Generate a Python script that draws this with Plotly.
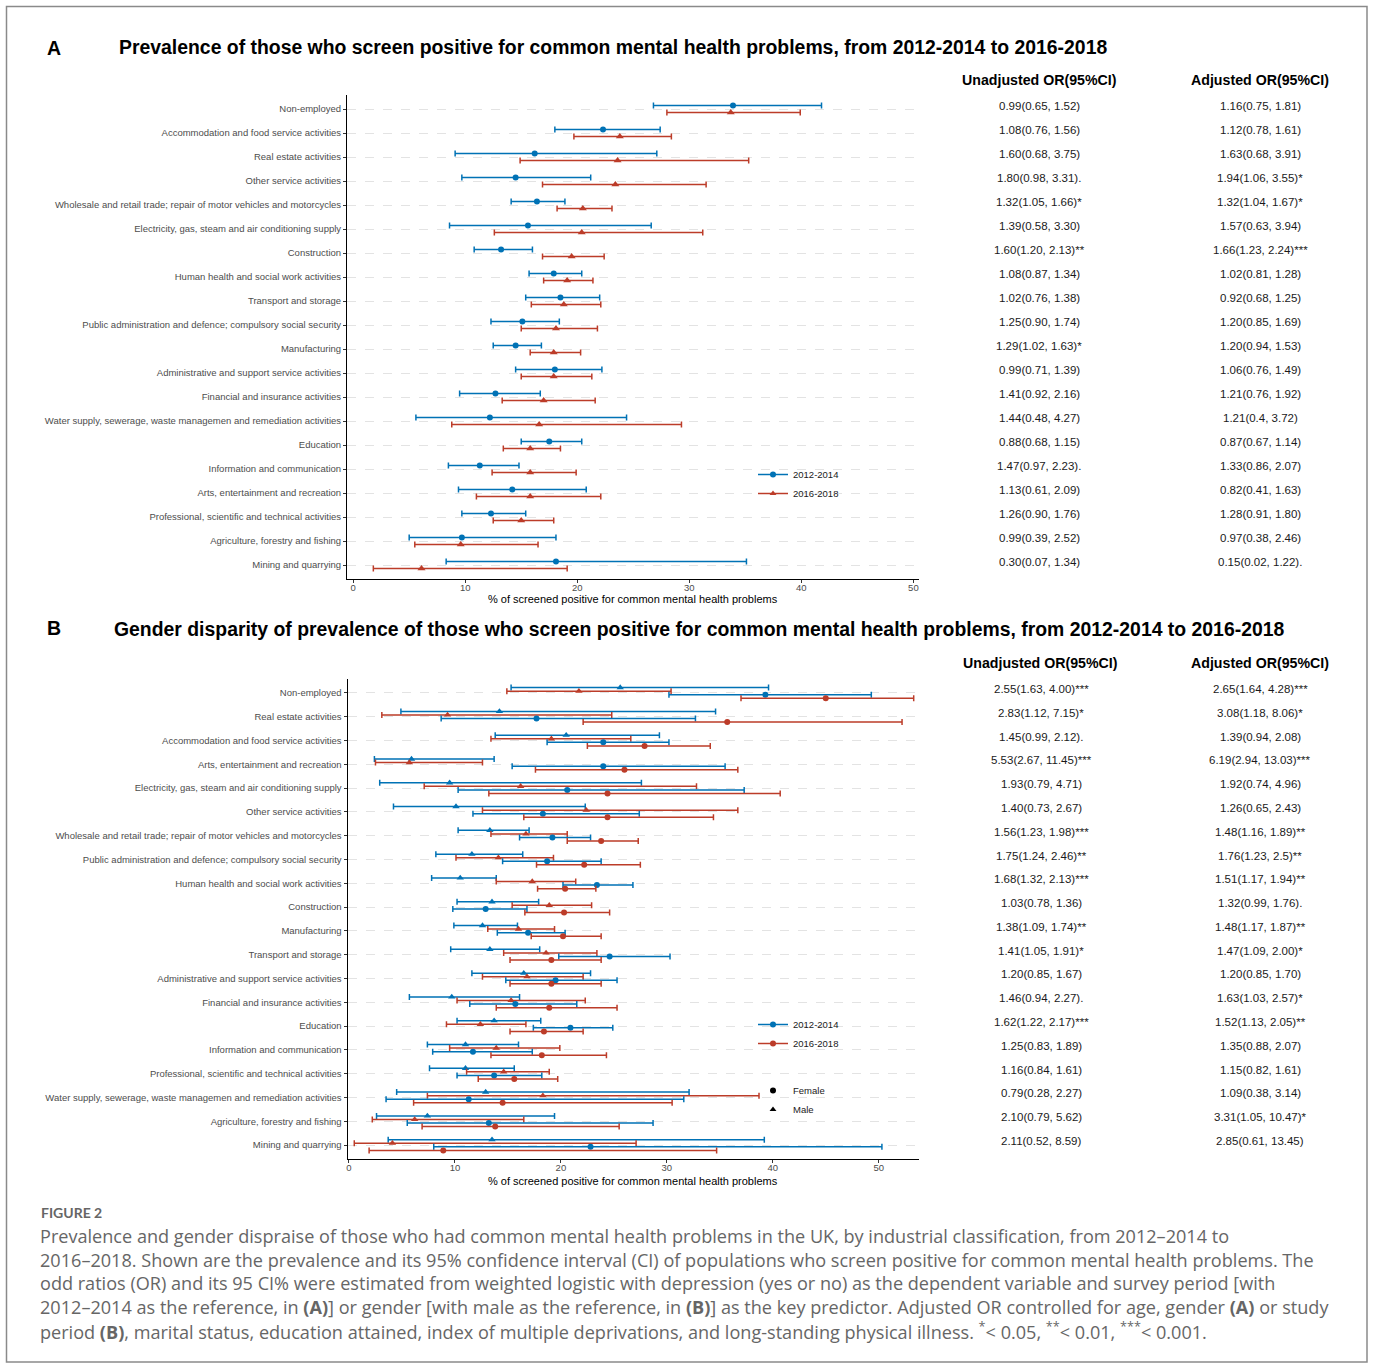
import numpy as np
import plotly.graph_objects as go

W, H = 1373, 1363

# ---------------- Panel A data ----------------
industries_a = [
    "Non-employed",
    "Accommodation and food service activities",
    "Real estate activities",
    "Other service activities",
    "Wholesale and retail trade; repair of motor vehicles and motorcycles",
    "Electricity, gas, steam and air conditioning supply",
    "Construction",
    "Human health and social work activities",
    "Transport and storage",
    "Public administration and defence; compulsory social security",
    "Manufacturing",
    "Administrative and support service activities",
    "Financial and insurance activities",
    "Water supply, sewerage, waste managemen and remediation activities",
    "Education",
    "Information and communication",
    "Arts, entertainment and recreation",
    "Professional, scientific and technical activities",
    "Agriculture, forestry and fishing",
    "Mining and quarrying",
]
a_2012_est = [33.9, 22.3, 16.2, 14.5, 16.4, 15.6, 13.2, 17.9, 18.5, 15.1, 14.5, 18.0, 12.7, 12.2, 17.5, 11.3, 14.2, 12.3, 9.7, 18.1]
a_2012_lo = [26.8, 18.0, 9.1, 9.7, 14.1, 8.6, 10.8, 15.7, 15.4, 12.3, 12.5, 14.5, 9.5, 5.6, 15.0, 8.5, 9.4, 9.7, 5.0, 8.3]
a_2012_hi = [41.8, 27.4, 27.1, 21.2, 18.9, 26.6, 16.0, 20.4, 22.0, 18.4, 16.8, 22.2, 16.7, 24.4, 20.4, 14.8, 20.8, 15.4, 18.1, 35.1]
a_2016_est = [33.7, 23.8, 23.6, 23.4, 20.5, 20.4, 19.5, 19.1, 18.8, 18.1, 17.9, 17.9, 17.0, 16.6, 15.8, 15.8, 15.8, 15.0, 9.6, 6.1]
a_2016_lo = [28.0, 19.7, 14.9, 16.9, 18.2, 12.6, 16.9, 17.0, 15.9, 15.0, 15.8, 15.0, 13.3, 8.8, 13.4, 12.4, 11.0, 12.5, 5.5, 1.8]
a_2016_hi = [39.9, 28.4, 35.3, 31.5, 23.1, 31.2, 22.4, 21.4, 22.1, 21.8, 20.3, 21.3, 21.6, 29.3, 18.5, 19.9, 22.1, 17.9, 16.5, 19.1]

a_unadjusted = [
    "0.99(0.65, 1.52)", "1.08(0.76, 1.56)", "1.60(0.68, 3.75)", "1.80(0.98, 3.31).",
    "1.32(1.05, 1.66)*", "1.39(0.58, 3.30)", "1.60(1.20, 2.13)**", "1.08(0.87, 1.34)",
    "1.02(0.76, 1.38)", "1.25(0.90, 1.74)", "1.29(1.02, 1.63)*", "0.99(0.71, 1.39)",
    "1.41(0.92, 2.16)", "1.44(0.48, 4.27)", "0.88(0.68, 1.15)", "1.47(0.97, 2.23).",
    "1.13(0.61, 2.09)", "1.26(0.90, 1.76)", "0.99(0.39, 2.52)", "0.30(0.07, 1.34)",
]
a_adjusted = [
    "1.16(0.75, 1.81)", "1.12(0.78, 1.61)", "1.63(0.68, 3.91)", "1.94(1.06, 3.55)*",
    "1.32(1.04, 1.67)*", "1.57(0.63, 3.94)", "1.66(1.23, 2.24)***", "1.02(0.81, 1.28)",
    "0.92(0.68, 1.25)", "1.20(0.85, 1.69)", "1.20(0.94, 1.53)", "1.06(0.76, 1.49)",
    "1.21(0.76, 1.92)", "1.21(0.4, 3.72)", "0.87(0.67, 1.14)", "1.33(0.86, 2.07)",
    "0.82(0.41, 1.63)", "1.28(0.91, 1.80)", "0.97(0.38, 2.46)", "0.15(0.02, 1.22).",
]

# ---------------- Panel B data ----------------
industries_b = [
    "Non-employed",
    "Real estate activities",
    "Accommodation and food service activities",
    "Arts, entertainment and recreation",
    "Electricity, gas, steam and air conditioning supply",
    "Other service activities",
    "Wholesale and retail trade; repair of motor vehicles and motorcycles",
    "Public administration and defence; compulsory social security",
    "Human health and social work activities",
    "Construction",
    "Manufacturing",
    "Transport and storage",
    "Administrative and support service activities",
    "Financial and insurance activities",
    "Education",
    "Information and communication",
    "Professional, scientific and technical activities",
    "Water supply, sewerage, waste managemen and remediation activities",
    "Agriculture, forestry and fishing",
    "Mining and quarrying",
]
male_2012_est = [25.6, 14.2, 20.5, 5.9, 9.5, 10.1, 13.3, 11.6, 10.5, 13.5, 12.6, 13.3, 16.5, 9.7, 13.7, 11.0, 11.0, 12.9, 7.4, 13.5]
male_2012_lo = [15.3, 4.9, 13.8, 2.4, 2.9, 4.2, 10.3, 8.2, 7.8, 10.2, 9.9, 9.6, 11.6, 5.7, 10.2, 7.4, 7.6, 4.5, 2.6, 3.7]
male_2012_hi = [39.6, 34.6, 29.3, 13.7, 27.6, 22.3, 17.0, 16.4, 13.9, 17.9, 15.9, 18.0, 22.8, 16.1, 18.1, 16.0, 15.6, 32.1, 19.4, 39.2]
male_2016_est = [21.7, 9.3, 19.1, 5.7, 16.2, 22.4, 16.7, 14.1, 17.3, 18.9, 16.0, 18.6, 16.8, 15.3, 12.4, 13.9, 14.6, 18.3, 6.2, 4.1]
male_2016_lo = [14.9, 3.1, 13.4, 2.5, 7.1, 12.6, 13.4, 10.1, 13.9, 15.4, 13.1, 14.6, 12.6, 10.2, 9.2, 9.5, 11.1, 7.4, 2.2, 0.5]
male_2016_hi = [30.4, 24.8, 26.6, 12.6, 32.8, 36.7, 20.6, 19.3, 21.4, 22.9, 19.4, 23.4, 22.1, 22.3, 16.7, 19.9, 18.9, 38.7, 16.5, 27.1]
female_2012_est = [39.3, 17.7, 24.0, 24.0, 20.6, 18.3, 19.2, 18.7, 23.4, 12.9, 16.9, 24.6, 19.5, 15.7, 20.9, 11.7, 13.7, 11.3, 13.2, 22.8]
female_2012_lo = [30.2, 8.7, 18.7, 15.4, 10.3, 11.7, 16.1, 14.5, 20.2, 9.8, 14.0, 19.8, 14.8, 11.4, 17.4, 7.9, 10.2, 3.5, 5.5, 8.0]
female_2012_hi = [49.3, 32.7, 30.2, 35.5, 37.3, 27.4, 22.8, 23.8, 26.8, 16.8, 20.4, 30.3, 25.3, 21.5, 24.9, 17.3, 18.2, 31.6, 28.7, 50.3]
female_2016_est = [45.0, 35.7, 27.9, 26.0, 24.4, 24.4, 23.8, 22.2, 20.4, 20.3, 20.2, 19.1, 19.1, 18.9, 18.4, 18.2, 15.6, 14.5, 13.8, 8.9]
female_2016_lo = [37.0, 22.1, 22.5, 17.6, 13.2, 16.5, 20.6, 17.7, 17.8, 16.6, 17.2, 15.2, 15.2, 13.9, 15.2, 13.4, 12.2, 6.1, 6.9, 1.9]
female_2016_hi = [53.3, 52.2, 34.1, 36.7, 40.7, 34.4, 27.3, 27.5, 23.3, 24.6, 23.8, 23.8, 23.8, 25.3, 22.1, 24.3, 19.7, 30.5, 25.5, 34.7]

b_unadjusted = [
    "2.55(1.63, 4.00)***", "2.83(1.12, 7.15)*", "1.45(0.99, 2.12).", "5.53(2.67, 11.45)***",
    "1.93(0.79, 4.71)", "1.40(0.73, 2.67)", "1.56(1.23, 1.98)***", "1.75(1.24, 2.46)**",
    "1.68(1.32, 2.13)***", "1.03(0.78, 1.36)", "1.38(1.09, 1.74)**", "1.41(1.05, 1.91)*",
    "1.20(0.85, 1.67)", "1.46(0.94, 2.27).", "1.62(1.22, 2.17)***", "1.25(0.83, 1.89)",
    "1.16(0.84, 1.61)", "0.79(0.28, 2.27)", "2.10(0.79, 5.62)", "2.11(0.52, 8.59)",
]
b_adjusted = [
    "2.65(1.64, 4.28)***", "3.08(1.18, 8.06)*", "1.39(0.94, 2.08)", "6.19(2.94, 13.03)***",
    "1.92(0.74, 4.96)", "1.26(0.65, 2.43)", "1.48(1.16, 1.89)**", "1.76(1.23, 2.5)**",
    "1.51(1.17, 1.94)**", "1.32(0.99, 1.76).", "1.48(1.17, 1.87)**", "1.47(1.09, 2.00)*",
    "1.20(0.85, 1.70)", "1.63(1.03, 2.57)*", "1.52(1.13, 2.05)**", "1.35(0.88, 2.07)",
    "1.15(0.82, 1.61)", "1.09(0.38, 3.14)", "3.31(1.05, 10.47)*", "2.85(0.61, 13.45)",
]

period_labels = ["2012-2014", "2016-2018"]
gender_labels = ["Female", "Male"]

BLUE = "#0072B5"
RED = "#BC3C29"
TICK_GREY = "#4d4d4d"
FONT = "Arial, Liberation Sans, sans-serif"


def X(px):
    return px / W


def Y(py):
    return 1 - py / H


fig = go.Figure()


def add_series(est, lo, hi, ypos, color, symbol, size, xa, ya):
    est = np.array(est)
    fig.add_trace(go.Scatter(
        x=est, y=ypos, mode="markers",
        marker=dict(color=color, symbol=symbol, size=size, line=dict(width=0)),
        error_x=dict(type="data", symmetric=False,
                     array=np.array(hi) - est, arrayminus=est - np.array(lo),
                     color=color, thickness=1.5, width=3),
        xaxis=xa, yaxis=ya, showlegend=False, hoverinfo="skip",
    ))


# Panel A
n_a = len(industries_a)
base_a = np.arange(n_a, 0, -1).astype(float)
add_series(a_2012_est, a_2012_lo, a_2012_hi, base_a + 0.15, BLUE, "circle", 6, "x", "y")
add_series(a_2016_est, a_2016_lo, a_2016_hi, base_a - 0.15, RED, "triangle-up", 7, "x", "y")

# Panel B
n_b = len(industries_b)
base_b = np.arange(n_b, 0, -1).astype(float)
add_series(male_2012_est, male_2012_lo, male_2012_hi, base_b + 0.225, BLUE, "triangle-up", 6.5, "x2", "y2")
add_series(male_2016_est, male_2016_lo, male_2016_hi, base_b + 0.075, RED, "triangle-up", 6.5, "x2", "y2")
add_series(female_2012_est, female_2012_lo, female_2012_hi, base_b - 0.075, BLUE, "circle", 6, "x2", "y2")
add_series(female_2016_est, female_2016_lo, female_2016_hi, base_b - 0.225, RED, "circle", 6, "x2", "y2")

# Legend traces
for lab, col, sym in zip(period_labels, [BLUE, RED], ["circle", "triangle-up"]):
    fig.add_trace(go.Scatter(x=[None], y=[None], mode="lines+markers", name=lab,
                             marker=dict(color=col, symbol=sym, size=6),
                             line=dict(color=col, width=1.5), legend="legend",
                             xaxis="x", yaxis="y"))
for lab, col in zip(period_labels, [BLUE, RED]):
    fig.add_trace(go.Scatter(x=[None], y=[None], mode="lines+markers", name=lab,
                             marker=dict(color=col, symbol="circle", size=6),
                             line=dict(color=col, width=1.5), legend="legend2",
                             xaxis="x2", yaxis="y2"))
for lab, sym in zip(gender_labels, ["circle", "triangle-up"]):
    fig.add_trace(go.Scatter(x=[None], y=[None], mode="markers", name=lab,
                             marker=dict(color="black", symbol=sym, size=6),
                             legend="legend3", xaxis="x2", yaxis="y2"))

axis_common = dict(showline=True, linecolor="black", linewidth=1, ticks="outside",
                   ticklen=3, tickcolor="#333333", tickwidth=1, zeroline=False,
                   automargin=False, tickfont=dict(family=FONT, size=9.5, color=TICK_GREY))

fig.update_layout(
    width=W, height=H, template="none",
    margin=dict(l=0, r=0, t=0, b=0),
    paper_bgcolor="white", plot_bgcolor="white",
    font=dict(family=FONT),
    xaxis=dict(domain=[X(347), X(919)], range=[-0.55, 50.5], dtick=10, tick0=0,
               showgrid=False, anchor="y", ticklabelstandoff=-4, **axis_common),
    yaxis=dict(domain=[Y(579.4), Y(94.6)], range=[0.4, 20.6],
               tickvals=list(base_a), ticktext=industries_a,
               showgrid=True, gridcolor="#e3e3e3", griddash="dash", gridwidth=1,
               anchor="x", **axis_common),
    xaxis2=dict(domain=[X(347.5), X(919)], range=[-0.14, 53.8], dtick=10, tick0=0,
                showgrid=False, anchor="y2", ticklabelstandoff=-4, **axis_common),
    yaxis2=dict(domain=[Y(1159.3), Y(678.7)], range=[0.4, 20.6],
                tickvals=list(base_b), ticktext=industries_b,
                showgrid=True, gridcolor="#e3e3e3", griddash="dash", gridwidth=1,
                anchor="x2", **axis_common),
    legend=dict(x=X(753), y=Y(460), xanchor="left", yanchor="top",
                font=dict(family=FONT, size=9.5, color="#1a1a1a"),
                bgcolor="rgba(0,0,0,0)", itemwidth=30),
    legend2=dict(x=X(753), y=Y(1010), xanchor="left", yanchor="top",
                 font=dict(family=FONT, size=9.5, color="#1a1a1a"),
                 bgcolor="rgba(0,0,0,0)", itemwidth=30),
    legend3=dict(x=X(753), y=Y(1076), xanchor="left", yanchor="top",
                 font=dict(family=FONT, size=9.5, color="#1a1a1a"),
                 bgcolor="rgba(0,0,0,0)", itemwidth=30),
)

ann = []


def txt(x, y, text, size, color="black", bold=False, xanchor="center", family=FONT,
        yref="paper", yshift=0):
    if bold:
        text = "<b>" + text + "</b>"
    ann.append(dict(x=x, y=y, xref="paper", yref=yref, text=text, showarrow=False,
                    xanchor=xanchor, yanchor="middle", yshift=yshift,
                    font=dict(family=family, size=size, color=color)))


# Titles
txt(X(45), Y(48), "A", 19.5, bold=True, xanchor="left")
txt(X(613), Y(47), "Prevalence of those who screen positive for common mental health problems, from 2012-2014 to 2016-2018", 19.4, bold=True)
txt(X(45), Y(628), "B", 19.5, bold=True, xanchor="left")
txt(X(699), Y(629), "Gender disparity of prevalence of those who screen positive for common mental health problems, from 2012-2014 to 2016-2018", 19.4, bold=True)

# Axis titles
xt = "% of screened positive for common mental health problems"
txt(X(633), Y(599), xt, 11)
txt(X(633), Y(1181), xt, 11)

# Tables
txt(X(1039), Y(80), "Unadjusted OR(95%CI)", 14.2, bold=True)
txt(X(1260), Y(80), "Adjusted OR(95%CI)", 14.2, bold=True)
for i in range(n_a):
    txt(X(1039), base_a[i], a_unadjusted[i], 11.5, color="#1a1a1a", yref="y", yshift=3)
    txt(X(1260), base_a[i], a_adjusted[i], 11.5, color="#1a1a1a", yref="y", yshift=3)

txt(X(1040), Y(663), "Unadjusted OR(95%CI)", 14.2, bold=True)
txt(X(1260), Y(663), "Adjusted OR(95%CI)", 14.2, bold=True)
for i in range(n_b):
    txt(X(1041), base_b[i], b_unadjusted[i], 11.5, color="#1a1a1a", yref="y2", yshift=4)
    txt(X(1260), base_b[i], b_adjusted[i], 11.5, color="#1a1a1a", yref="y2", yshift=4)

# Caption
CAP_FONT = "Open Sans, Lato, sans-serif"
CAP_COL = "#666666"
txt(X(39), Y(1212), "FIGURE 2", 14, color=CAP_COL, bold=True, xanchor="left", family="Lato, sans-serif")
caption_lines = [
    "Prevalence and gender dispraise of those who had common mental health problems in the UK, by industrial classification, from 2012–2014 to",
    "2016–2018. Shown are the prevalence and its 95% confidence interval (CI) of populations who screen positive for common mental health problems. The",
    "odd ratios (OR) and its 95 CI% were estimated from weighted logistic with depression (yes or no) as the dependent variable and survey period [with",
    "2012–2014 as the reference, in <b>(A)</b>] or gender [with male as the reference, in <b>(B)</b>] as the key predictor. Adjusted OR controlled for age, gender <b>(A)</b> or study",
    "period <b>(B)</b>, marital status, education attained, index of multiple deprivations, and long-standing physical illness. <sup>*</sup>&lt; 0.05, <sup>**</sup>&lt; 0.01, <sup>***</sup>&lt; 0.001.",
]
cap_y = [1236, 1259.5, 1283, 1306.5, 1330]
for line, yy in zip(caption_lines, cap_y):
    txt(X(38), Y(yy), line, 18.1, color=CAP_COL, xanchor="left", family=CAP_FONT)

fig.update_layout(annotations=ann)

fig.add_shape(type="rect", xref="paper", yref="paper",
              x0=X(6.5), x1=X(1367), y0=Y(1362), y1=Y(6.5),
              line=dict(color="#8a8a8a", width=1.5), fillcolor="rgba(0,0,0,0)")

fig.write_html("out.html", config={"displayModeBar": False},
               post_script="document.body.style.margin='0';document.body.style.overflow='hidden';")
